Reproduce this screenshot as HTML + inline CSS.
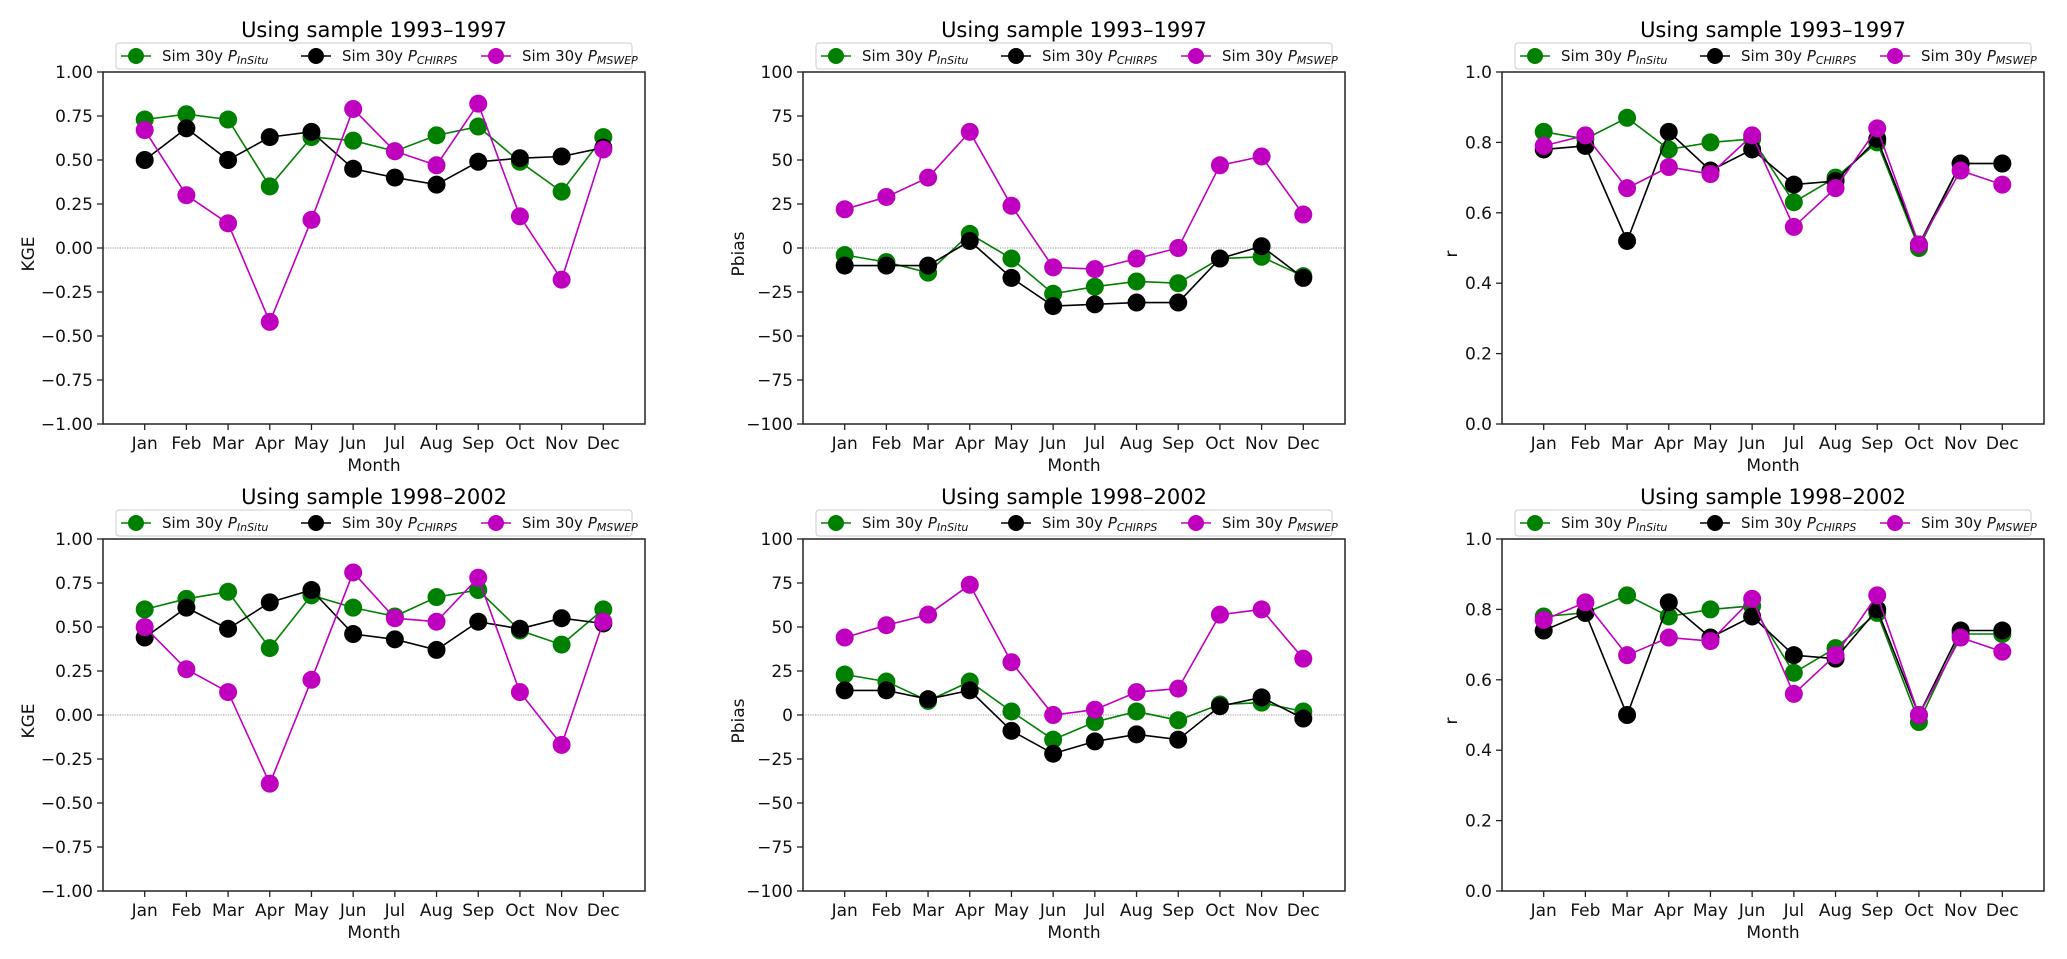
<!DOCTYPE html>
<html><head><meta charset="utf-8"><style>
html,body{margin:0;padding:0;background:#fff}
svg{display:block;font-family:"DejaVu Sans","Liberation Sans",sans-serif}
</style></head><body>
<svg id="fig" width="2067" height="959" viewBox="0 0 2067 959" xmlns="http://www.w3.org/2000/svg"></svg>
<script>
const months = ["Jan","Feb","Mar","Apr","May","Jun","Jul","Aug","Sep","Oct","Nov","Dec"];
const kgeTicks = ["\u22121.00","\u22120.75","\u22120.50","\u22120.25","0.00","0.25","0.50","0.75","1.00"];
const pbiasTicks = ["\u2212100","\u221275","\u221250","\u221225","0","25","50","75","100"];
const rTicks = ["0.0","0.2","0.4","0.6","0.8","1.0"];
const titles = ["Using sample 1993\u20131997","Using sample 1998\u20132002"];

const kge1Insitu = [0.73,0.76,0.73,0.35,0.63,0.61,0.55,0.64,0.69,0.49,0.32,0.63];
const kge1Chirps = [0.50,0.68,0.50,0.63,0.66,0.45,0.40,0.36,0.49,0.51,0.52,0.57];
const kge1Mswep  = [0.67,0.30,0.14,-0.42,0.16,0.79,0.55,0.47,0.82,0.18,-0.18,0.56];
const pb1Insitu = [-4,-8,-14,8,-6,-26,-22,-19,-20,-6,-5,-16];
const pb1Chirps = [-10,-10,-10,4,-17,-33,-32,-31,-31,-6,1,-17];
const pb1Mswep  = [22,29,40,66,24,-11,-12,-6,0,47,52,19];
const r1Insitu = [0.83,0.81,0.87,0.78,0.80,0.81,0.63,0.70,0.80,0.50,0.74,0.74];
const r1Chirps = [0.78,0.79,0.52,0.83,0.72,0.78,0.68,0.69,0.81,0.51,0.74,0.74];
const r1Mswep  = [0.79,0.82,0.67,0.73,0.71,0.82,0.56,0.67,0.84,0.51,0.72,0.68];
const kge2Insitu = [0.60,0.66,0.70,0.38,0.68,0.61,0.56,0.67,0.71,0.48,0.40,0.60];
const kge2Chirps = [0.44,0.61,0.49,0.64,0.71,0.46,0.43,0.37,0.53,0.49,0.55,0.52];
const kge2Mswep  = [0.50,0.26,0.13,-0.39,0.20,0.81,0.55,0.53,0.78,0.13,-0.17,0.53];
const pb2Insitu = [23,19,8,19,2,-14,-4,2,-3,6,7,2];
const pb2Chirps = [14,14,9,14,-9,-22,-15,-11,-14,5,10,-2];
const pb2Mswep  = [44,51,57,74,30,0,3,13,15,57,60,32];
const r2Insitu = [0.78,0.79,0.84,0.78,0.80,0.81,0.62,0.69,0.79,0.48,0.73,0.73];
const r2Chirps = [0.74,0.79,0.50,0.82,0.72,0.78,0.67,0.66,0.80,0.50,0.74,0.74];
const r2Mswep  = [0.77,0.82,0.67,0.72,0.71,0.83,0.56,0.67,0.84,0.50,0.72,0.68];

const NS = "http://www.w3.org/2000/svg";
const svg = document.getElementById('fig');
function mk(tag, attrs, parent, text){
  const e = document.createElementNS(NS, tag);
  for (const k in attrs) e.setAttribute(k, attrs[k]);
  if (text !== undefined) e.textContent = text;
  (parent || svg).appendChild(e);
  return e;
}
const colors = ["#008000","#000000","#bf00bf"];
const seriesNames = ["InSitu","CHIRPS","MSWEP"];

const panels = [
  {left:103, top:72, ylab:"KGE", ymin:-1, ymax:1, ticks:kgeTicks, zero:true, labx:28, data:[kge1Insitu,kge1Chirps,kge1Mswep], title:0, name:"kge-1993"},
  {left:803, top:72, ylab:"Pbias", ymin:-100, ymax:100, ticks:pbiasTicks, zero:true, labx:738, data:[pb1Insitu,pb1Chirps,pb1Mswep], title:0, name:"pbias-1993"},
  {left:1502, top:72, ylab:"r", ymin:0, ymax:1, ticks:rTicks, zero:false, labx:1451, data:[r1Insitu,r1Chirps,r1Mswep], title:0, name:"r-1993"},
  {left:103, top:539, ylab:"KGE", ymin:-1, ymax:1, ticks:kgeTicks, zero:true, labx:28, data:[kge2Insitu,kge2Chirps,kge2Mswep], title:1, name:"kge-1998"},
  {left:803, top:539, ylab:"Pbias", ymin:-100, ymax:100, ticks:pbiasTicks, zero:true, labx:738, data:[pb2Insitu,pb2Chirps,pb2Mswep], title:1, name:"pbias-1998"},
  {left:1502, top:539, ylab:"r", ymin:0, ymax:1, ticks:rTicks, zero:false, labx:1451, data:[r2Insitu,r2Chirps,r2Mswep], title:1, name:"r-1998"}
];
const W = 542, H = 352;

panels.forEach(p => {
  const g = mk('g', {});
  
  
  const xs = i => p.left + (i + 1) * W / 13;
  const ys = v => p.top + H - (v - p.ymin) / (p.ymax - p.ymin) * H;
  const cx = p.left + W / 2;
  // title
  const t = mk('text', {x:cx, y:p.top - 35, 'font-size':21, 'text-anchor':'middle', fill:'#000'}, g, titles[p.title]);
  
  
  // zero line
  if (p.zero) {
    const z = mk('line', {x1:p.left, x2:p.left + W, y1:ys(0), y2:ys(0), stroke:'#999', 'stroke-width':1, 'stroke-dasharray':'1.2,1.2'}, g);
    
    
  }
  // y ticks
  const n = p.ticks.length;
  p.ticks.forEach((lab, i) => {
    const v = p.ymin + i * (p.ymax - p.ymin) / (n - 1);
    const y = ys(v);
    mk('line', {x1:p.left - 6, x2:p.left, y1:y, y2:y, stroke:'#222', 'stroke-width':1.3}, g);
    const tl = mk('text', {x:p.left - 10, y:y + 6, 'font-size':17, 'text-anchor':'end', fill:'#111'}, g, lab);
    
    
  });
  // x ticks
  months.forEach((m, i) => {
    const x = xs(i);
    mk('line', {x1:x, x2:x, y1:p.top + H, y2:p.top + H + 6, stroke:'#222', 'stroke-width':1.3}, g);
    const tl = mk('text', {x:x, y:p.top + H + 25, 'font-size':17, 'text-anchor':'middle', fill:'#111'}, g, m);
    
    
  });
  const xl = mk('text', {x:cx, y:p.top + H + 47, 'font-size':17, 'text-anchor':'middle', fill:'#111'}, g, 'Month');
  
  
  const yl = mk('text', {x:p.labx, y:p.top + H / 2, 'font-size':17, 'text-anchor':'middle', fill:'#111', transform:'rotate(-90 ' + (p.labx + 6) + ' ' + (p.top + H / 2) + ')'}, g, p.ylab);
  
  
  // series
  p.data.forEach((arr, s) => {
    const sg = mk('g', {}, g);
    
    
    const pts = arr.map((v, i) => xs(i).toFixed(1) + ',' + ys(v).toFixed(1)).join(' ');
    mk('polyline', {points:pts, fill:'none', stroke:colors[s], 'stroke-width':1.6}, sg);
    arr.forEach((v, i) => {
      const c = mk('circle', {cx:xs(i), cy:ys(v), r:9, fill:colors[s]}, sg);
      
      
    });
  });
  // frame
  const fr = mk('rect', {x:p.left, y:p.top, width:W, height:H, fill:'none', stroke:'#222', 'stroke-width':1.5}, g);
  
  
  // legend
  const lx = cx - 258, ly = p.top - 29;
  const lg = mk('g', {}, g);
  
  
  mk('rect', {x:lx, y:ly, width:516, height:26, rx:3, fill:'#fff', stroke:'#ccc', 'stroke-width':1}, lg);
  seriesNames.forEach((sn, s) => {
    const ex = lx + 20 + s * 180;
    const ey = ly + 13;
    const eg = mk('g', {}, lg);
    
    
    mk('line', {x1:ex - 15, x2:ex + 15, y1:ey, y2:ey, stroke:colors[s], 'stroke-width':1.6}, eg);
    mk('circle', {cx:ex, cy:ey, r:8, fill:colors[s]}, eg);
    const tx = mk('text', {x:ex + 26, y:ey + 5, 'font-size':15, fill:'#111'}, eg);
    mk('tspan', {}, tx, 'Sim 30y ');
    mk('tspan', {'font-style':'italic'}, tx, 'P');
    mk('tspan', {'font-style':'italic', 'font-size':11, dy:3}, tx, sn);
  });
});
</script>
</body></html>
